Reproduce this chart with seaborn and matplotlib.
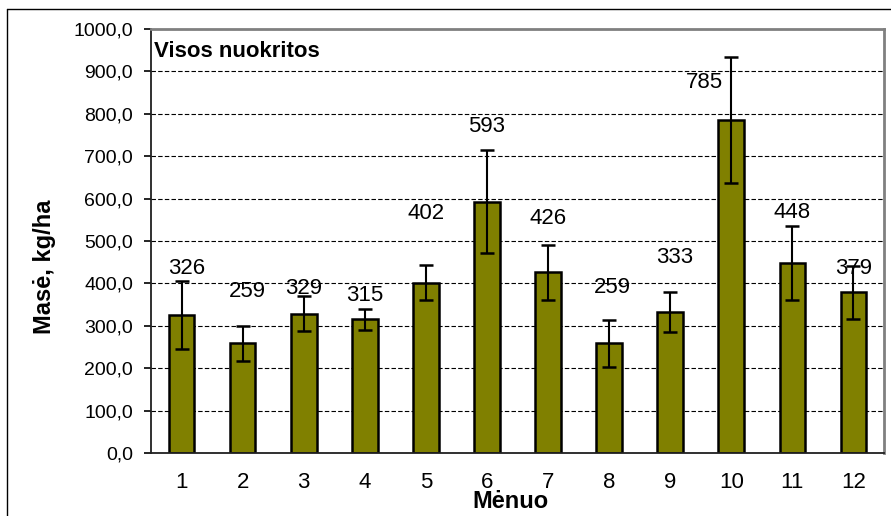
import matplotlib
matplotlib.use('Agg')
import matplotlib.pyplot as plt
from matplotlib.ticker import FuncFormatter, FixedLocator
from matplotlib.lines import Line2D
import seaborn as sns
import pandas as pd

# Duomenys
menuo = ['1', '2', '3', '4', '5', '6', '7', '8', '9', '10', '11', '12']
mase = [326, 259, 329, 315, 402, 593, 426, 259, 333, 785, 448, 379]
paklaida = [80, 41, 42, 25, 42, 122, 65, 55, 47, 148, 87, 62]

# Etikečių vieta (rankinis išdėstymas kaip originale)
label_dx = [0.08, 0.08, 0, 0, 0, 0, 0, 0.05, 0.08, -0.44, 0, 0]
label_y = [436, 380, 387, 371, 566, 769, 554, 390, 460, 873, 567, 436]

sns.set_theme(style="white")
plt.rcParams['font.family'] = ['Liberation Sans', 'DejaVu Sans']
plt.rcParams['text.color'] = 'black'
plt.rcParams['axes.labelcolor'] = 'black'
plt.rcParams['xtick.color'] = 'black'
plt.rcParams['ytick.color'] = 'black'

df = pd.DataFrame({'menuo': menuo, 'mase': mase})

fig = plt.figure(figsize=(8.91, 5.16), dpi=100)
ax = fig.add_axes([151 / 891, 63 / 516, 733 / 891, 424 / 516])

sns.barplot(data=df, x='menuo', y='mase', color='#808000', saturation=1,
            width=0.42, edgecolor='black', linewidth=1.8, ax=ax, zorder=2)
ax.errorbar(range(len(mase)), mase, yerr=paklaida, fmt='none', ecolor='black',
            elinewidth=1.5, capsize=4.7, capthick=1.8, zorder=3)

for i, v in enumerate(mase):
    ax.text(i + label_dx[i], label_y[i], str(v), ha='center', va='center',
            fontsize=16, color='black', zorder=4)

ax.set_xlim(-0.5, len(mase) - 0.5)
ax.set_ylim(0, 1000)
ax.yaxis.set_major_locator(FixedLocator(range(0, 1001, 100)))
ax.yaxis.set_major_formatter(FuncFormatter(lambda v, p: f"{v:.1f}".replace('.', ',')))
ax.yaxis.grid(True, color='black', linestyle=(0, (4, 2)), linewidth=0.8)
ax.set_axisbelow(True)

ax.xaxis.set_minor_locator(FixedLocator([i - 0.5 for i in range(len(mase) + 1)]))
ax.tick_params(axis='x', which='major', length=0, labelsize=16, pad=14)
ax.tick_params(axis='x', which='minor', length=6, width=1.2, color='black', direction='out')
ax.tick_params(axis='y', which='major', length=5, width=1.2, color='black',
               direction='out', labelsize=14, pad=8, left=True)

ax.set_xlabel('Mėnuo', fontsize=17, fontweight='bold')
ax.xaxis.set_label_coords(0.49, -0.088)
ax.set_ylabel('Masė, kg/ha', fontsize=17, fontweight='bold')
ax.yaxis.set_label_coords(-0.13, 0.44)

ax.text(0.004, 0.946, 'Visos nuokritos', transform=ax.transAxes, ha='left', va='center',
        fontsize=16, fontweight='bold', color='black')

for side in ['left', 'bottom']:
    ax.spines[side].set_color('#202020')
    ax.spines[side].set_linewidth(1.3)
for side in ['top', 'right']:
    ax.spines[side].set_color('#808080')
    ax.spines[side].set_linewidth(2)

# išorinis rėmelis
fig.add_artist(Line2D([7 / 891, 1], [1 - 9 / 516, 1 - 9 / 516], color='black', linewidth=1,
                      transform=fig.transFigure))
fig.add_artist(Line2D([7 / 891, 7 / 891], [0, 1 - 9 / 516], color='black', linewidth=1,
                      transform=fig.transFigure))

fig.savefig('out.png', dpi=100, facecolor='white')
